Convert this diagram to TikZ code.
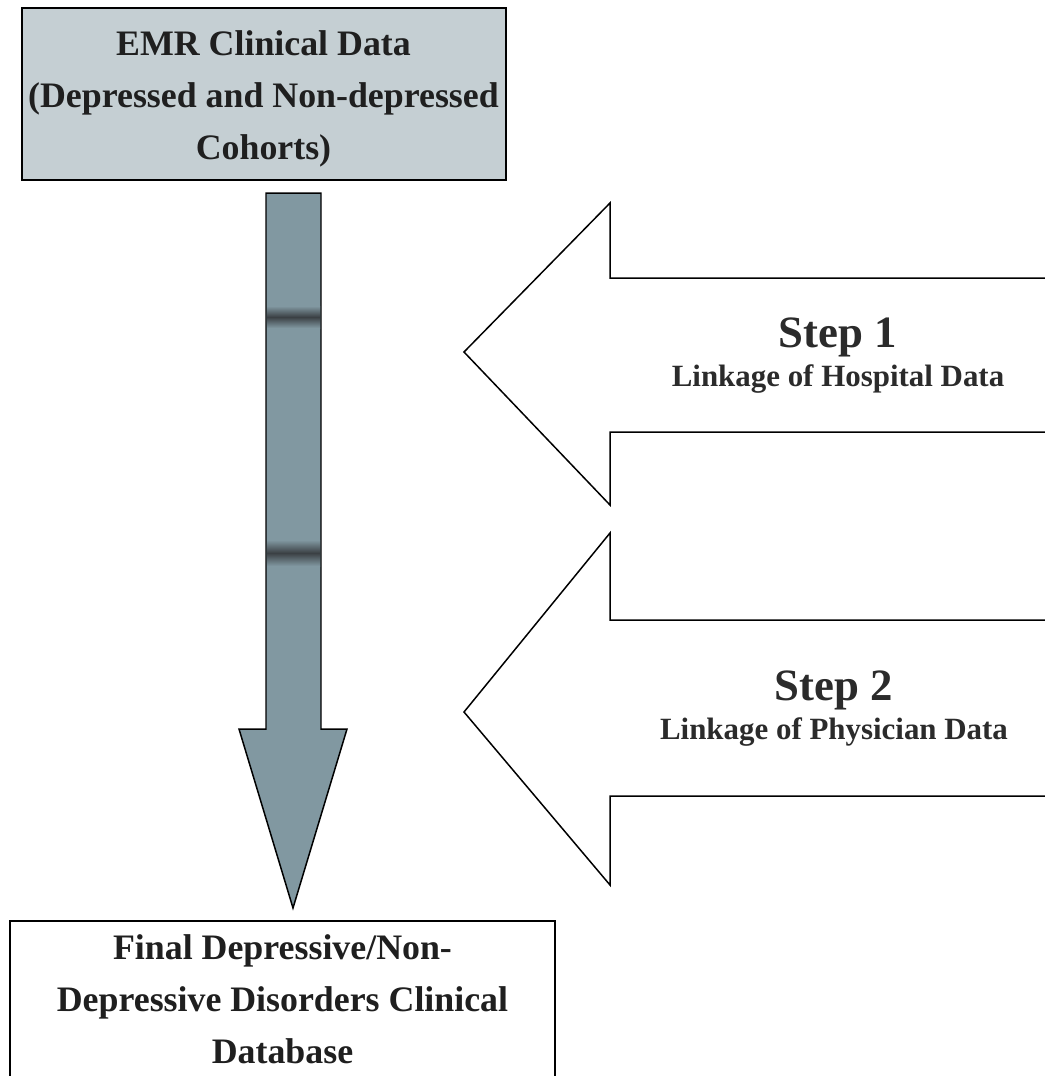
\documentclass[tikz,border=0pt]{standalone}
\usepackage{fontspec}
\setmainfont{Liberation Serif}
\usepackage{xcolor}
\definecolor{emrfill}{HTML}{C5CFD3}
\definecolor{shaftblue}{HTML}{8198A1}
\definecolor{bandgray}{HTML}{3B4044}
\definecolor{steptext}{HTML}{2B2B2B}
\usepackage{tikz}
\usetikzlibrary{positioning}

\begin{document}
\begin{tikzpicture}[x=0.02cm, y=-0.02cm,
  boxtext/.style={align=center, inner sep=0pt,
    font=\fontsize{20.4}{29.5}\selectfont\bfseries, text=black!88},
  blockarrow/.style={draw=black, line width=0.85pt, line join=miter},
  steptitle/.style={inner sep=0pt, font=\fontsize{25.5}{30}\selectfont\bfseries, text=steptext},
  stepsub/.style={inner sep=0pt, font=\fontsize{17.6}{21}\selectfont\bfseries, text=steptext}
]
\useasboundingbox (0,0) rectangle (1045,1076);
\clip (0,0) rectangle (1045,1076);

% Boxes
\draw[fill=emrfill, line width=1.4pt] (22,8) rectangle (506,180);
\node[boxtext] (emr) at (263.5,99) {EMR Clinical Data\\(Depressed and Non-depressed\\Cohorts)};
\draw[fill=white, line width=0.85pt] (10,921) rectangle (555,1090);
\node[boxtext] (final) at (282.5,999) {Final Depressive/Non-\\Depressive Disorders Clinical\\Database};

% Down arrow
\filldraw[blockarrow, fill=shaftblue] (266,193) -- (321,193) -- (321,729) -- (347,729)
  -- (293,908) -- (239,729) -- (266,729) -- cycle;
\shade[top color=shaftblue, bottom color=bandgray] (267,306) rectangle (320,317);
\shade[top color=bandgray, bottom color=shaftblue] (267,317) rectangle (320,328);
\shade[top color=shaftblue, bottom color=bandgray] (267,540) rectangle (320,553);
\shade[top color=bandgray, bottom color=shaftblue] (267,553) rectangle (320,566);

% Step arrows
\draw[blockarrow] (1050,278) -- (610,278) -- (610,203) -- (464,352) -- (610,505)
  -- (610,432) -- (1050,432);
\draw[blockarrow] (1050,620) -- (610,620) -- (610,533) -- (464,712) -- (610,885)
  -- (610,796) -- (1050,796);

\node[steptitle] (step1) at (838,337) {Step 1};
\node[stepsub, below=4pt of step1] (hosp) {Linkage of Hospital Data};
\node[steptitle] (step2) at (834,690) {Step 2};
\node[stepsub, below=4pt of step2] (phys) {Linkage of Physician Data};
\end{tikzpicture}
\end{document}
